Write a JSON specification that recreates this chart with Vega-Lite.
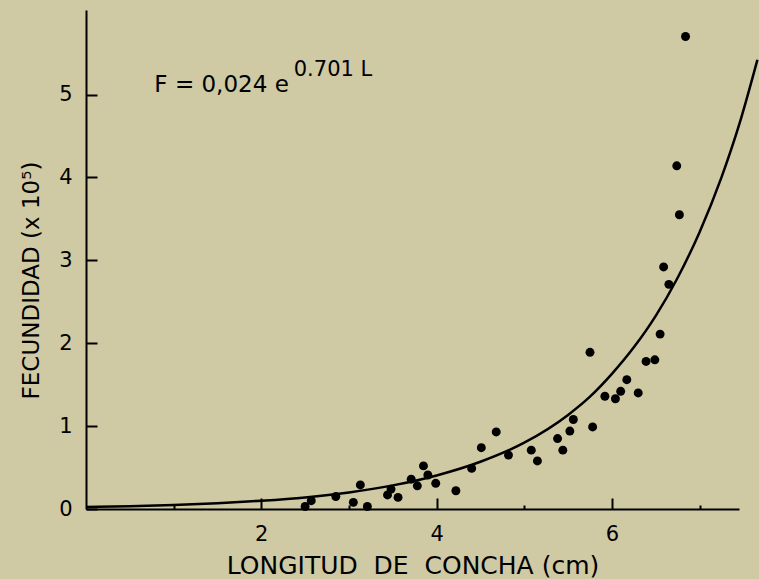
{
  "$schema": "https://vega.github.io/schema/vega-lite/v6.json",
  "width": 653,
  "height": 499,
  "autosize": "none",
  "padding": {"left": 86, "top": 10, "right": 20, "bottom": 70},
  "background": "#cfc9a4",
  "config": {
    "view": {"stroke": null},
    "font": "DejaVu Sans",
    "axis": {
      "tickColor": "black", "tickWidth": 2,
      "domainColor": "black", "domainWidth": 2,
      "labelFontSize": 21, "labelColor": "black", "labelFont": "DejaVu Sans", "labelFlush": false,
      "titleFontWeight": "normal", "titleColor": "black", "titleFont": "DejaVu Sans",
      "grid": false
    }
  },
  "datasets": {
    "curve": [
      {"L": 0, "F": 0.024}, {"L": 0.5, "F": 0.034}, {"L": 1, "F": 0.049}, {"L": 1.5, "F": 0.07},
      {"L": 2, "F": 0.1}, {"L": 2.5, "F": 0.14}, {"L": 3, "F": 0.2}, {"L": 3.5, "F": 0.285},
      {"L": 4, "F": 0.405}, {"L": 4.5, "F": 0.57}, {"L": 5, "F": 0.8}, {"L": 5.5, "F": 1.135},
      {"L": 5.75, "F": 1.355}, {"L": 6, "F": 1.63}, {"L": 6.25, "F": 1.95}, {"L": 6.5, "F": 2.33},
      {"L": 6.75, "F": 2.79}, {"L": 7, "F": 3.34}, {"L": 7.25, "F": 4.0},
      {"L": 7.45, "F": 4.63}, {"L": 7.66, "F": 5.42}
    ],
    "points": [
      {"L": 2.50, "F": 0.03}, {"L": 2.57, "F": 0.10}, {"L": 2.85, "F": 0.15}, {"L": 3.05, "F": 0.08},
      {"L": 3.13, "F": 0.29}, {"L": 3.21, "F": 0.03}, {"L": 3.44, "F": 0.17}, {"L": 3.48, "F": 0.24},
      {"L": 3.56, "F": 0.14}, {"L": 3.71, "F": 0.36}, {"L": 3.78, "F": 0.28}, {"L": 3.85, "F": 0.52},
      {"L": 3.90, "F": 0.41}, {"L": 3.99, "F": 0.31}, {"L": 4.22, "F": 0.22}, {"L": 4.40, "F": 0.49},
      {"L": 4.51, "F": 0.74}, {"L": 4.68, "F": 0.93}, {"L": 4.82, "F": 0.65}, {"L": 5.08, "F": 0.71},
      {"L": 5.15, "F": 0.58}, {"L": 5.38, "F": 0.85}, {"L": 5.44, "F": 0.71}, {"L": 5.52, "F": 0.94},
      {"L": 5.56, "F": 1.08}, {"L": 5.78, "F": 0.99}, {"L": 5.75, "F": 1.89}, {"L": 5.92, "F": 1.36},
      {"L": 6.04, "F": 1.33}, {"L": 6.10, "F": 1.42}, {"L": 6.17, "F": 1.56}, {"L": 6.30, "F": 1.40},
      {"L": 6.39, "F": 1.78}, {"L": 6.49, "F": 1.80}, {"L": 6.55, "F": 2.11}, {"L": 6.59, "F": 2.92},
      {"L": 6.65, "F": 2.71}, {"L": 6.74, "F": 4.14}, {"L": 6.77, "F": 3.55}, {"L": 6.84, "F": 5.70}
    ],
    "eq": [{"t": "F = 0,024 e"}],
    "sup": [{"t": "0.701 L"}]
  },
  "layer": [
    {
      "data": {"name": "curve"},
      "mark": {"type": "line", "color": "black", "strokeWidth": 2.5, "interpolate": "monotone", "clip": false},
      "encoding": {
        "x": {
          "field": "L", "type": "quantitative",
          "scale": {"domain": [0, 7.45], "nice": false, "zero": false},
          "axis": {
            "title": "LONGITUD\u00a0\u00a0DE\u00a0\u00a0CONCHA (cm)",
            "values": [1, 2, 3, 4, 5, 6, 7],
            "labelExpr": "datum.value % 2 === 0 ? format(datum.value, 'd') : ''",
            "tickSize": {"condition": {"test": "datum.value % 2 === 0", "value": -11}, "value": -4},
            "labelPadding": 25,
            "titleFontSize": 25,
            "titleBaseline": "alphabetic", "titleY": 64
          }
        },
        "y": {
          "field": "F", "type": "quantitative",
          "scale": {"domain": [0, 6.02], "nice": false, "zero": true},
          "axis": {
            "title": "FECUNDIDAD (x 10⁵)",
            "values": [0, 1, 2, 3, 4, 5],
            "labelExpr": "format(datum.value, 'd')",
            "tickSize": -11,
            "labelPadding": 25,
            "titleFontSize": 23,
            "titleBaseline": "alphabetic", "titleX": -48, "titleY": 270, "titleAngle": -90
          }
        }
      }
    },
    {
      "data": {"name": "points"},
      "mark": {"type": "point", "filled": true, "color": "black", "opacity": 1, "size": 80},
      "encoding": {
        "x": {"field": "L", "type": "quantitative", "title": "LONGITUD\u00a0\u00a0DE\u00a0\u00a0CONCHA (cm)"},
        "y": {"field": "F", "type": "quantitative", "title": "FECUNDIDAD (x 10⁵)"}
      }
    },
    {
      "data": {"name": "eq"},
      "mark": {"type": "text", "fontSize": 23, "color": "black", "align": "left", "baseline": "alphabetic"},
      "encoding": {
        "x": {"datum": 0.78, "type": "quantitative"},
        "y": {"datum": 5.03, "type": "quantitative"},
        "text": {"field": "t", "type": "nominal"}
      }
    },
    {
      "data": {"name": "sup"},
      "mark": {"type": "text", "fontSize": 21, "color": "black", "align": "left", "baseline": "alphabetic"},
      "encoding": {
        "x": {"datum": 2.37, "type": "quantitative"},
        "y": {"datum": 5.22, "type": "quantitative"},
        "text": {"field": "t", "type": "nominal"}
      }
    }
  ]
}
